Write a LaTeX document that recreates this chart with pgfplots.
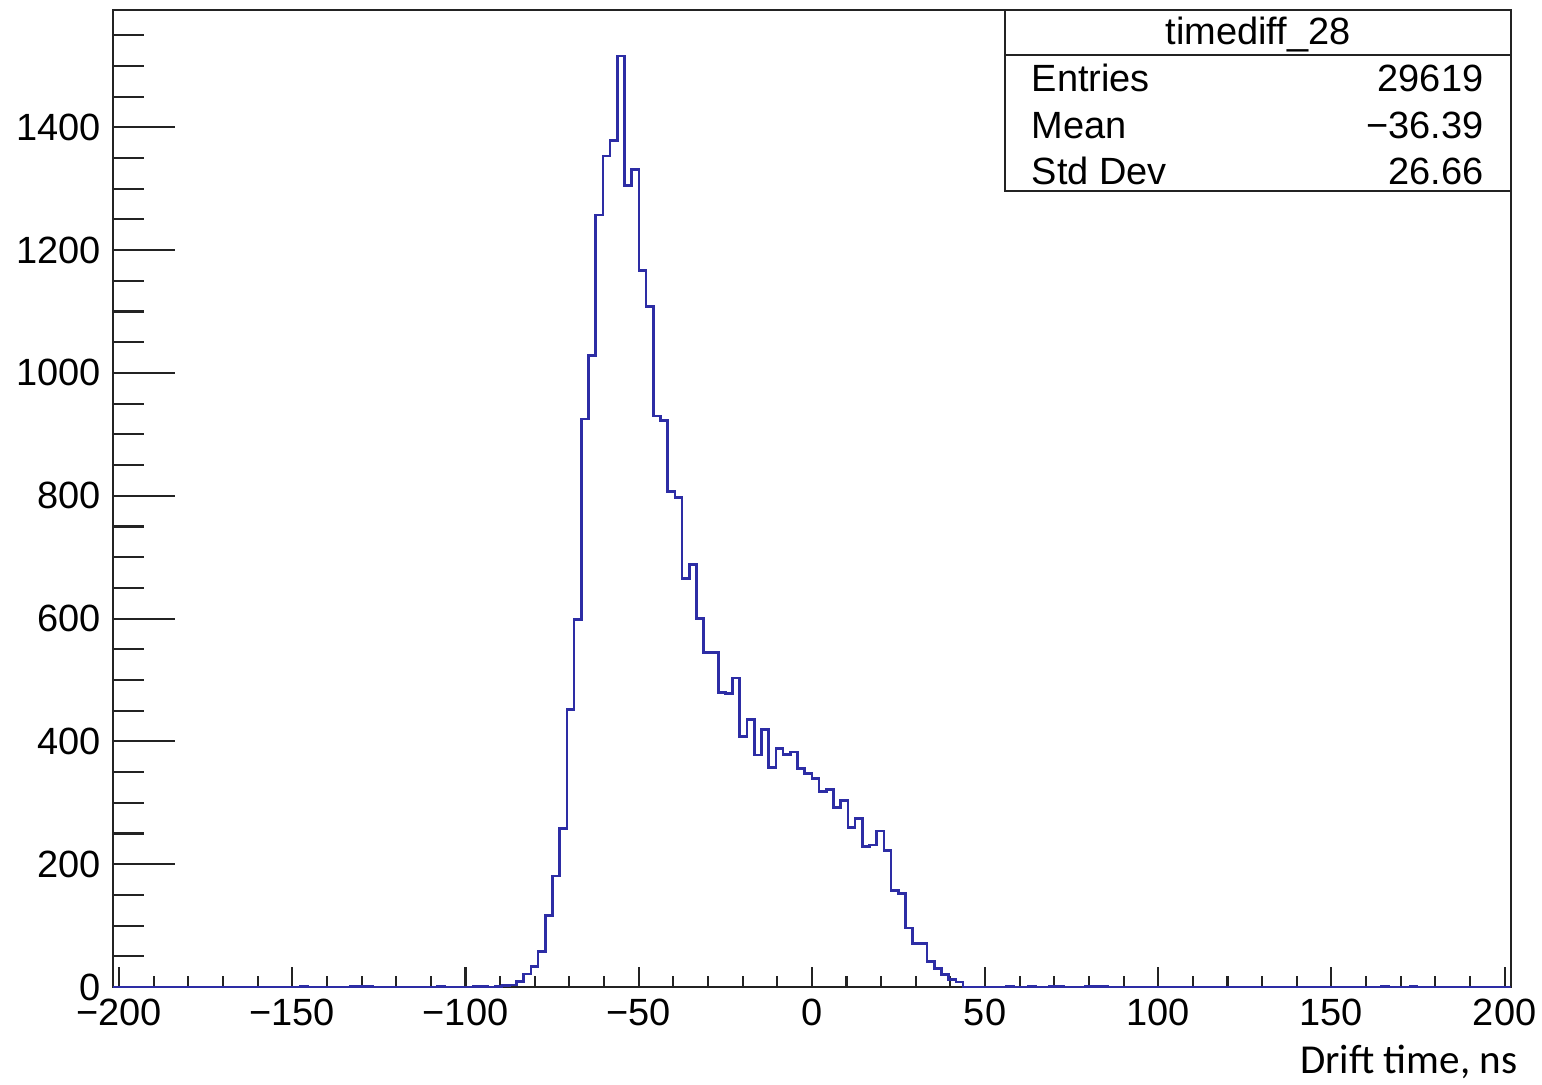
\documentclass[border=0pt]{standalone}
\usepackage{fontspec}
\setmainfont{Liberation Sans}
\newfontfamily\labelfont{Carlito}
\usepackage{pgfplots}
\pgfplotsset{compat=1.18}
\definecolor{histblue}{RGB}{45,45,165}
\definecolor{framegray}{RGB}{35,35,35}
\newcommand\tickfont{\fontsize{10.8}{13}\selectfont}

\begin{document}
\begin{tikzpicture}[x=1cm,y=1cm]
\path[use as bounding box] (0,0) rectangle (15.42,10.84);
\begin{axis}[
    at={(1.13cm,0.97cm)}, anchor=south west,
    scale only axis, width=13.977cm, height=9.77cm,
    xmin=-201.76, xmax=201.76, ymin=0, ymax=1591,
    axis line style={framegray, line width=0.6pt},
    tick align=inside, tick pos=left,
    xtick={-200,-150,-100,-50,0,50,100,150,200},
    xticklabels={−200,−150,−100,−50,0,50,100,150,200},
    minor xtick={-190,-180,-170,-160,-140,-130,-120,-110,-90,-80,-70,-60,-40,-30,-20,-10,10,20,30,40,60,70,80,90,110,120,130,140,160,170,180,190},
    ytick={0,200,400,600,800,1000,1200,1400},
    minor ytick={50,100,150,250,300,350,450,500,550,650,700,750,850,900,950,1050,1100,1150,1250,1300,1350,1450,1500,1550},
    tick style={framegray, line width=0.6pt},
    xtick style={/pgfplots/major tick length=0.2cm, /pgfplots/minor tick length=0.11cm},
    ytick style={/pgfplots/major tick length=0.62cm, /pgfplots/minor tick length=0.31cm},
    ticklabel style={font=\tickfont},
    /pgf/number format/assume math mode=true,
    /pgf/number format/1000 sep={},
    scaled ticks=false,
]
% timediff_28, bins of 2.08 ns, x = left bin edge
\addplot[const plot mark left, histblue, line width=0.75pt] coordinates {
(-201.76,0)
(-147.68,1) (-145.60,0)
(-133.12,1) (-131.04,1) (-128.96,1) (-126.88,0)
(-108.16,1) (-106.08,0)
(-97.76,1) (-95.68,1) (-93.60,0)
(-91.52,1) (-89.44,2) (-87.36,3)
(-85.28,9) (-83.20,21) (-81.12,33) (-79.04,58) (-76.96,116)
(-74.88,181) (-72.80,258) (-70.72,452) (-68.64,598) (-66.56,925)
(-64.48,1028) (-62.40,1257) (-60.32,1353) (-58.24,1378) (-56.16,1516)
(-54.08,1305) (-52.00,1331) (-49.92,1167) (-47.84,1108) (-45.76,930)
(-43.68,923) (-41.60,807) (-39.52,797) (-37.44,665) (-35.36,688)
(-33.28,600) (-31.20,545) (-29.12,545) (-27.04,480) (-24.96,478)
(-22.88,503) (-20.80,408) (-18.72,436) (-16.64,378) (-14.56,419)
(-12.48,357) (-10.40,388) (-8.32,379) (-6.24,383) (-4.16,356)
(-2.08,348) (0.00,340) (2.08,318) (4.16,322) (6.24,292)
(8.32,304) (10.40,260) (12.48,274) (14.56,229) (16.64,231)
(18.72,254) (20.80,222) (22.88,157) (24.96,152) (27.04,96)
(29.12,71) (31.20,71) (33.28,42) (35.36,30) (37.44,20)
(39.52,12) (41.60,8) (43.68,0)
(56.16,1) (58.24,0)
(62.40,1) (64.48,0)
(68.64,1) (70.72,1) (72.80,0)
(79.04,1) (81.12,1) (83.20,1) (85.28,0)
(164.32,1) (166.40,0)
(172.64,1) (174.72,0)
(201.76,0)
};
\end{axis}
% statistics box
\draw[framegray, line width=0.6pt, fill=white] (10.05,8.93) rectangle (15.107,10.74);
\draw[framegray, line width=0.6pt] (10.05,10.29) -- (15.107,10.29);
\begin{scope}[every node/.style={font=\tickfont, inner sep=0pt}]
\node[anchor=base] at (12.58,10.40) {timediff\_28};
\node[anchor=base west] at (10.31,9.93) {Entries};
\node[anchor=base west] at (10.31,9.46) {Mean};
\node[anchor=base west] at (10.31,9.00) {Std Dev};
\node[anchor=base east] at (14.84,9.93) {29619};
\node[anchor=base east] at (14.84,9.46) {−36.39};
\node[anchor=base east] at (14.84,9.00) {26.66};
\end{scope}
\node[font=\labelfont\fontsize{11.7}{14}\selectfont, inner sep=0pt, anchor=base east] at (15.18,0.11) {Drift time, ns};
\end{tikzpicture}
\end{document}
